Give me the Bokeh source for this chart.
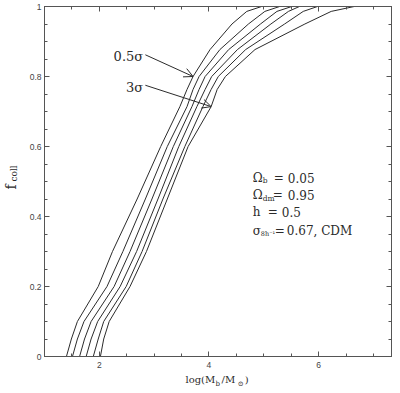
import numpy as np
from bokeh.plotting import figure
from bokeh.models import (Range1d, FixedTicker, LinearAxis, Label, Arrow, OpenHead,
                          CustomJSTickFormatter)
from bokeh.embed import file_html
from bokeh.resources import INLINE

# ---- data ----
F_COLL = [0, 0.05, 0.1, 0.2, 0.3, 0.45, 0.6, 0.714, 0.763, 0.8, 0.877, 0.95, 0.986, 1.0]
LOGM_05S = [1.40, 1.49, 1.60, 1.98, 2.24, 2.69, 3.12, 3.47, 3.60, 3.71, 4.02, 4.42, 4.69, 4.96]
LOGM_10S = [1.51, 1.60, 1.72, 2.14, 2.43, 2.84, 3.24, 3.60, 3.71, 3.82, 4.20, 4.72, 5.02, 5.29]
LOGM_15S = [1.64, 1.73, 1.85, 2.27, 2.56, 2.96, 3.35, 3.69, 3.82, 3.93, 4.36, 4.94, 5.24, 5.51]
LOGM_20S = [1.76, 1.85, 1.97, 2.38, 2.68, 3.07, 3.45, 3.78, 3.93, 4.05, 4.52, 5.13, 5.45, 5.65]
LOGM_25S = [1.89, 1.98, 2.08, 2.49, 2.78, 3.16, 3.56, 3.89, 4.04, 4.17, 4.67, 5.38, 5.72, 5.98]
LOGM_30S = [2.02, 2.08, 2.18, 2.56, 2.86, 3.24, 3.62, 4.04, 4.15, 4.30, 4.84, 5.75, 6.23, 6.65]
CURVES = [LOGM_05S, LOGM_10S, LOGM_15S, LOGM_20S, LOGM_25S, LOGM_30S]

X_TICKS = [2, 4, 6]
X_TICK_LABELS = ["2", "4", "6"]
Y_TICKS = [0, 0.2, 0.4, 0.6, 0.8, 1.0]
Y_TICK_LABELS = ["0", "0.2", "0.4", "0.6", "0.8", "1"]
ARROW_TIP_F_05 = 0.80
ARROW_TIP_F_30 = 0.714

INK = "#2b2b2b"
AX = "#555555"
SERIF = "DejaVu Serif"
NB = "\u00a0"

p = figure(width=398, height=391, x_range=Range1d(1.0, 7.33), y_range=Range1d(0, 1),
           output_backend="svg", toolbar_location=None,
           min_border_left=43, min_border_right=7, min_border_top=6, min_border_bottom=35)
p.grid.visible = False
p.outline_line_color = AX
p.outline_line_width = 1

x_minor = list(np.arange(1.0, 7.5, 0.5))
y_minor = list(np.round(np.arange(0, 1.0001, 0.05), 2))
xt = FixedTicker(ticks=X_TICKS, minor_ticks=x_minor)
yt = FixedTicker(ticks=Y_TICKS, minor_ticks=y_minor)

def style_axis(ax):
    ax.axis_line_color = AX
    ax.major_tick_line_color = AX
    ax.minor_tick_line_color = AX
    ax.major_tick_in = 5
    ax.major_tick_out = 0
    ax.minor_tick_in = 3
    ax.minor_tick_out = 0
    ax.major_label_text_font = "Liberation Sans"
    ax.major_label_text_font_size = "8.5px"
    ax.major_label_text_color = "#444444"

p.xaxis.ticker = xt
p.yaxis.ticker = yt
p.xaxis.major_label_overrides = dict(zip(X_TICKS, X_TICK_LABELS))
p.yaxis.major_label_overrides = dict(zip(Y_TICKS, Y_TICK_LABELS))
style_axis(p.xaxis[0])
style_axis(p.yaxis[0])
p.xaxis.major_label_standoff = 5
p.yaxis.major_label_standoff = 3

empty = CustomJSTickFormatter(code="return ''")
ax_r = LinearAxis(ticker=FixedTicker(ticks=Y_TICKS, minor_ticks=y_minor), formatter=empty)
ax_t = LinearAxis(ticker=FixedTicker(ticks=X_TICKS, minor_ticks=x_minor), formatter=empty)
for a in (ax_r, ax_t):
    style_axis(a)
    a.major_label_text_font_size = "1px"
    a.major_label_standoff = 0
p.add_layout(ax_r, "right")
p.add_layout(ax_t, "above")

for xs in CURVES:
    p.line(xs, F_COLL, line_color=INK, line_width=1)

# arrows and sigma labels
tip05 = float(np.interp(ARROW_TIP_F_05, F_COLL, LOGM_05S))
tip30 = float(np.interp(ARROW_TIP_F_30, F_COLL, LOGM_30S))
p.add_layout(Arrow(end=OpenHead(size=9, line_color=INK, line_width=1),
                   x_start=2.84, y_start=0.862, x_end=tip05, y_end=ARROW_TIP_F_05,
                   line_color=INK, line_width=1))
p.add_layout(Arrow(end=OpenHead(size=9, line_color=INK, line_width=1),
                   x_start=2.84, y_start=0.775, x_end=tip30, y_end=ARROW_TIP_F_30,
                   line_color=INK, line_width=1))

def mk(text, x, y, size, dx=0, dy=0, align="left", units="data", angle=0.0):
    return Label(x=x, y=y, text=text, x_offset=dx, y_offset=dy, text_font=SERIF,
                 text_font_size=size, text_color=INK, text_align=align,
                 text_baseline="alphabetic", angle=angle,
                 x_units=units, y_units=units)

def lab(*a, **k):
    p.add_layout(mk(*a, **k))

lab("0.5σ", 2.80, 0.856, "13px", align="right")
lab("3σ", 2.80, 0.769, "13px", align="right")

# parameter block
bx = 4.80
rows = [0.511, 0.461, 0.412, 0.360]
lab("Ω", bx, rows[0], "12px")
lab("b", bx, rows[0], "7.5px", dx=10, dy=-3)
lab("=", bx, rows[0], "12px", dx=21)
lab("0.05", bx, rows[0], "12px", dx=35)

lab("Ω", bx, rows[1], "12px")
lab("dm", bx, rows[1], "7.5px", dx=10, dy=-3)
lab("=", bx, rows[1], "12px", dx=20)
lab("0.95", bx, rows[1], "12px", dx=35)

lab("h", bx, rows[2], "12px")
lab("=", bx, rows[2], "12px", dx=15)
lab("0.5", bx, rows[2], "12px", dx=29)

lab("σ", bx, rows[3], "12px")
lab("8h⁻¹", bx, rows[3], "6.5px", dx=8, dy=-3)
lab("=", bx, rows[3], "12px", dx=22)
lab("0.67, CDM", bx, rows[3], "12px", dx=34)

# x axis label  log(M_b/M_sun): labels in the side panel below the frame
p.add_layout(mk("log(M" + NB * 2 + "/M" + NB * 3 + ")", 141, 2, "10px", units="screen"), "below")
p.add_layout(mk("b" + NB * 8 + "⊙", 171, 6, "7px", units="screen"), "below")

# y axis label  f_coll (rotated), in the left side panel
p.add_layout(mk("f", 0, 167, "14px", units="screen", angle=np.pi / 2), "left")
p.add_layout(mk("coll", 13, 175, "9px", units="screen", angle=np.pi / 2), "left")

open("out.html", "w").write(file_html(p, INLINE))
